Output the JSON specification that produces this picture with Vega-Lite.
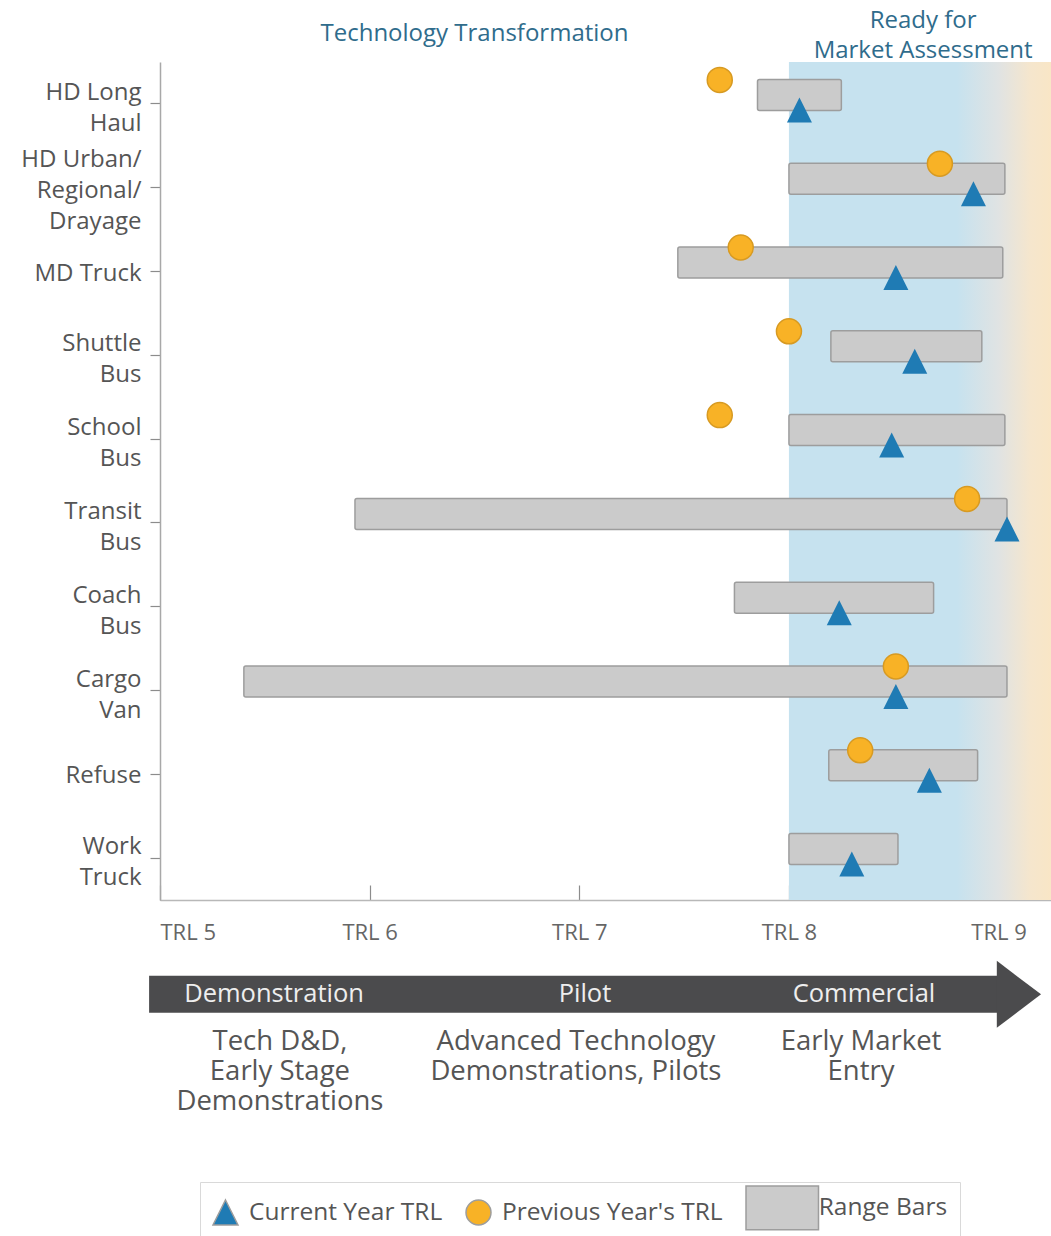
{
  "$schema": "https://vega.github.io/schema/vega-lite/v6.json",
  "background": "white",
  "padding": {"left": 20, "top": 0, "right": 0, "bottom": 0},
  "bounds": "flush",
  "spacing": 0,
  "config": {
    "view": {"stroke": null},
    "font": "Open Sans",
    "axis": {"grid": false, "labelFont": "Open Sans", "title": null},
    "legend": {
      "labelFont": "Open Sans",
      "labelFontSize": 24.5,
      "labelColor": "#555555",
      "strokeColor": "#d9d9d9",
      "padding": 12,
      "columnPadding": 20,
      "labelOffset": 10,
      "labelLimit": 400,
      "symbolSize": 625
    }
  },
  "datasets": {
    "trl": [
      {"vehicle": "HD Long\nHaul", "series": "Range Bars", "trl": 7.85, "trl_end": 8.25},
      {"vehicle": "HD Urban/\nRegional/\nDrayage", "series": "Range Bars", "trl": 8.0, "trl_end": 9.03},
      {"vehicle": "MD Truck", "series": "Range Bars", "trl": 7.47, "trl_end": 9.02},
      {"vehicle": "Shuttle\nBus", "series": "Range Bars", "trl": 8.2, "trl_end": 8.92},
      {"vehicle": "School\nBus", "series": "Range Bars", "trl": 8.0, "trl_end": 9.03},
      {"vehicle": "Transit\nBus", "series": "Range Bars", "trl": 5.93, "trl_end": 9.04},
      {"vehicle": "Coach\nBus", "series": "Range Bars", "trl": 7.74, "trl_end": 8.69},
      {"vehicle": "Cargo\nVan", "series": "Range Bars", "trl": 5.4, "trl_end": 9.04},
      {"vehicle": "Refuse", "series": "Range Bars", "trl": 8.19, "trl_end": 8.9},
      {"vehicle": "Work\nTruck", "series": "Range Bars", "trl": 8.0, "trl_end": 8.52},
      {"vehicle": "HD Long\nHaul", "series": "Current Year TRL", "trl": 8.05},
      {"vehicle": "HD Urban/\nRegional/\nDrayage", "series": "Current Year TRL", "trl": 8.88},
      {"vehicle": "MD Truck", "series": "Current Year TRL", "trl": 8.51},
      {"vehicle": "Shuttle\nBus", "series": "Current Year TRL", "trl": 8.6},
      {"vehicle": "School\nBus", "series": "Current Year TRL", "trl": 8.49},
      {"vehicle": "Transit\nBus", "series": "Current Year TRL", "trl": 9.04},
      {"vehicle": "Coach\nBus", "series": "Current Year TRL", "trl": 8.24},
      {"vehicle": "Cargo\nVan", "series": "Current Year TRL", "trl": 8.51},
      {"vehicle": "Refuse", "series": "Current Year TRL", "trl": 8.67},
      {"vehicle": "Work\nTruck", "series": "Current Year TRL", "trl": 8.3},
      {"vehicle": "HD Long\nHaul", "series": "Previous Year's TRL", "trl": 7.67},
      {"vehicle": "HD Urban/\nRegional/\nDrayage", "series": "Previous Year's TRL", "trl": 8.72},
      {"vehicle": "MD Truck", "series": "Previous Year's TRL", "trl": 7.77},
      {"vehicle": "Shuttle\nBus", "series": "Previous Year's TRL", "trl": 8.0},
      {"vehicle": "School\nBus", "series": "Previous Year's TRL", "trl": 7.67},
      {"vehicle": "Transit\nBus", "series": "Previous Year's TRL", "trl": 8.85},
      {"vehicle": "Cargo\nVan", "series": "Previous Year's TRL", "trl": 8.51},
      {"vehicle": "Refuse", "series": "Previous Year's TRL", "trl": 8.34}
    ],
    "zones": [
      {"zone": "Ready for Market Assessment", "from": 8, "to": 9.25}
    ],
    "headers": [
      {"label": "Technology Transformation", "at": 6.5, "lines": 1},
      {"label": "Ready for\nMarket Assessment", "at": 8.64, "lines": 2}
    ],
    "arrow": [
      {"tier": "stage", "from": 4.948, "to": 9.0, "head": 9.097}
    ],
    "phases": [
      {"tier": "stage", "label": "Demonstration", "at": 5.544},
      {"tier": "stage", "label": "Pilot", "at": 7.027},
      {"tier": "stage", "label": "Commercial", "at": 8.358},
      {"tier": "detail", "label": "Tech D&D,\nEarly Stage\nDemonstrations", "at": 5.572},
      {"tier": "detail", "label": "Advanced Technology\nDemonstrations, Pilots", "at": 6.984},
      {"tier": "detail", "label": "Early Market\nEntry", "at": 8.344}
    ]
  },
  "vconcat": [
    {
      "width": 891,
      "height": 62,
      "data": {"name": "headers"},
      "layer": [
        {
          "transform": [{"filter": "datum.lines == 1"}],
          "mark": {"type": "text", "font": "Open Sans", "fontSize": 24, "color": "#2f6c8c", "baseline": "middle", "dy": 3},
          "encoding": {
            "x": {"field": "at", "type": "quantitative", "scale": {"domain": [5, 9.25], "nice": false, "zero": false}, "axis": null},
            "text": {"field": "label"}
          }
        },
        {
          "transform": [{"filter": "datum.lines == 2"}],
          "mark": {"type": "text", "font": "Open Sans", "fontSize": 24, "color": "#2f6c8c", "lineBreak": "\n", "lineHeight": 30, "baseline": "middle", "dy": -10},
          "encoding": {
            "x": {"field": "at", "type": "quantitative"},
            "text": {"field": "label"}
          }
        }
      ]
    },
    {
      "width": 891,
      "height": 838,
      "layer": [
        {
          "data": {"name": "zones"},
          "mark": {
            "type": "rect",
            "fill": {
              "gradient": "linear", "x1": 0, "x2": 1, "y1": 0, "y2": 0,
              "stops": [
                {"offset": 0, "color": "#c6e2ef"},
                {"offset": 0.64, "color": "#c6e2ef"},
                {"offset": 0.8, "color": "#e0e3e3"},
                {"offset": 0.92, "color": "#f5e6cd"},
                {"offset": 1, "color": "#f9e6c6"}
              ]
            }
          },
          "encoding": {
            "x": {
              "field": "from", "type": "quantitative",
              "scale": {"domain": [5, 9.25], "nice": false, "zero": false},
              "axis": {
                "values": [5, 6, 7, 8, 9],
                "labelExpr": "'TRL ' + datum.value",
                "tickSize": -15,
                "tickWidth": 1.2,
                "tickColor": "#8c8c8c",
                "labelPadding": 37,
                "labelFontSize": 22,
                "labelColor": "#666666",
                "labelFlush": true,
                "domainColor": "#b8b8b8",
                "domainWidth": 1.5
              }
            },
            "x2": {"field": "to"}
          }
        },
        {
          "data": {"name": "trl"},
          "transform": [{"filter": {"field": "series", "equal": "Range Bars"}}],
          "mark": {"type": "bar", "height": 31, "yOffset": -9, "stroke": "#9d9d9d", "strokeWidth": 1.5, "cornerRadius": 2},
          "encoding": {
            "x": {"field": "trl", "type": "quantitative"},
            "x2": {"field": "trl_end"},
            "y": {
              "field": "vehicle", "type": "nominal",
              "scale": {
                "domain": ["HD Long\nHaul", "HD Urban/\nRegional/\nDrayage", "MD Truck", "Shuttle\nBus", "School\nBus", "Transit\nBus", "Coach\nBus", "Cargo\nVan", "Refuse", "Work\nTruck"],
                "paddingInner": 0, "paddingOuter": 0
              },
              "axis": {
                "labelExpr": "split(datum.label, '\\n')",
                "labelFontSize": 24,
                "labelColor": "#555555",
                "labelLineHeight": 31,
                "labelPadding": 9,
                "labelLimit": 300,
                "labelOffset": {
                  "condition": [
                    {"test": "length(split(datum.label, '\\n')) == 3", "value": -28},
                    {"test": "length(split(datum.label, '\\n')) == 2", "value": -11}
                  ],
                  "value": 2
                },
                "tickSize": 10,
                "tickWidth": 1.2,
                "tickColor": "#8c8c8c",
                "domainColor": "#a8a8a8",
                "domainWidth": 1.5
              }
            },
            "color": {
              "field": "series", "type": "nominal", "title": null,
              "scale": {"domain": ["Current Year TRL", "Previous Year's TRL", "Range Bars"], "range": ["#1f7bb4", "#f8b226", "#cbcbcb"]},
              "legend": {
                "orient": "none",
                "direction": "horizontal",
                "legendX": 40,
                "legendY": 1182,
                "labelExpr": "datum.label === 'Range Bars' ? '\u200b\u2003\u2002Range Bars' : datum.label",
                "encode": {
                  "symbols": {
                    "stroke": {
                      "condition": [
                        {"test": "datum.value === 'Range Bars'", "value": "#9d9d9d"},
                        {"test": "indexof(datum.value, 'Previous') >= 0", "value": "#d79a22"}
                      ],
                      "value": "#1f7bb4"
                    },
                    "strokeWidth": {"value": 1.3}
                  }
                }
              }
            }
          }
        },
        {
          "data": {"name": "trl"},
          "transform": [{"filter": {"field": "series", "equal": "Previous Year's TRL"}}],
          "mark": {"type": "point", "filled": true, "opacity": 1, "size": 625, "yOffset": -24, "stroke": "#d79a22", "strokeWidth": 1.5},
          "encoding": {
            "x": {"field": "trl", "type": "quantitative"},
            "y": {"field": "vehicle", "type": "nominal"},
            "color": {"field": "series", "type": "nominal", "title": null},
            "shape": {
              "field": "series", "type": "nominal", "title": null,
              "scale": {"domain": ["Current Year TRL", "Previous Year's TRL", "Range Bars"], "range": ["M0,-1L1,1L-1,1Z", "circle", "M-1,-1.75L4.8,-1.75L4.8,1.75L-1,1.75Z"]}
            }
          }
        },
        {
          "data": {"name": "trl"},
          "transform": [{"filter": {"field": "series", "equal": "Current Year TRL"}}],
          "mark": {"type": "point", "filled": true, "opacity": 1, "size": 625, "yOffset": 6},
          "encoding": {
            "x": {"field": "trl", "type": "quantitative"},
            "y": {"field": "vehicle", "type": "nominal"},
            "color": {"field": "series", "type": "nominal", "title": null},
            "shape": {"field": "series", "type": "nominal", "title": null}
          }
        }
      ]
    },
    {
      "width": 891,
      "height": 200,
      "layer": [
        {
          "data": {"name": "arrow"},
          "mark": {"type": "bar", "height": 37, "color": "#4b4b4d"},
          "encoding": {
            "x": {"field": "from", "type": "quantitative", "scale": {"domain": [5, 9.25], "nice": false, "zero": false}, "axis": null},
            "x2": {"field": "to"},
            "y": {"field": "tier", "type": "nominal", "scale": {"domain": ["stage", "detail"], "paddingInner": 0, "paddingOuter": 0.42, "align": 1}, "axis": null}
          }
        },
        {
          "data": {"name": "arrow"},
          "mark": {"type": "point", "shape": "M-0.66,-1L0.66,0L-0.66,1Z", "size": 4489, "filled": true, "opacity": 1, "color": "#4b4b4d"},
          "encoding": {
            "x": {"field": "head", "type": "quantitative"},
            "y": {"field": "tier", "type": "nominal"}
          }
        },
        {
          "data": {"name": "phases"},
          "transform": [{"filter": {"field": "tier", "equal": "stage"}}],
          "mark": {"type": "text", "font": "Open Sans", "fontSize": 25.5, "color": "#eeeeee", "baseline": "middle"},
          "encoding": {
            "x": {"field": "at", "type": "quantitative"},
            "y": {"field": "tier", "type": "nominal"},
            "text": {"field": "label"}
          }
        },
        {
          "data": {"name": "phases"},
          "transform": [{"filter": {"field": "tier", "equal": "detail"}}],
          "mark": {"type": "text", "font": "Open Sans", "fontSize": 27.5, "color": "#555555", "baseline": "top", "lineBreak": "\n", "lineHeight": 30, "dy": -2},
          "encoding": {
            "x": {"field": "at", "type": "quantitative"},
            "y": {"field": "tier", "type": "nominal", "bandPosition": 0},
            "text": {"field": "label"}
          }
        }
      ]
    }
  ]
}
